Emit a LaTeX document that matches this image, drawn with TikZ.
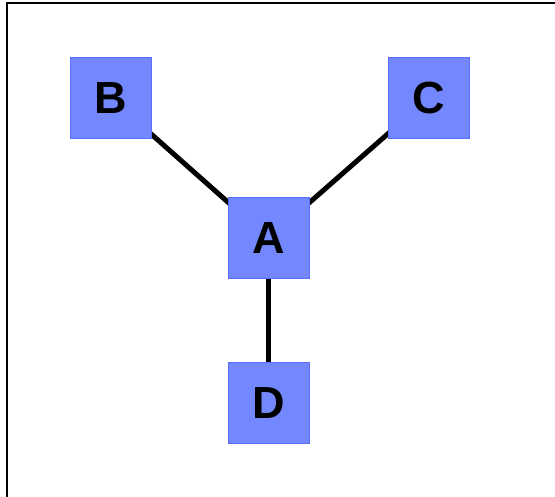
\documentclass[tikz,border=0pt]{standalone}
\usepackage{fontspec}
\setmainfont{Liberation Sans}
\usetikzlibrary{backgrounds}
\definecolor{boxfill}{RGB}{115,136,255}
\definecolor{boxedge}{RGB}{90,110,250}
\tikzset{
  box/.style={draw=boxedge, line width=1pt, fill=boxfill, minimum size=81pt,
    inner sep=0pt, font=\fontsize{45}{50}\selectfont\bfseries},
  link/.style={line width=5pt, black}
}
\begin{document}
\begin{tikzpicture}[x=1pt, y=1pt]
  \useasboundingbox (0,0) rectangle (555,497);
  % frame: only the top and left sides fall inside the page
  \draw[line width=2pt] (7,0) -- (7,494) -- (555,494);
  \node[box] (A) at (268.7,258.7) {A};
  \node[box] (B) at (110.5,399) {B};
  \node[box] (C) at (428.7,399) {C};
  \node[box] (D) at (268.7,94) {D};
  \begin{scope}[on background layer]
    \draw[link] (A.center) -- (B.center);
    \draw[link] (A.center) -- (C.center);
    \draw[link] (A.center) -- (D.center);
  \end{scope}
\end{tikzpicture}
\end{document}
